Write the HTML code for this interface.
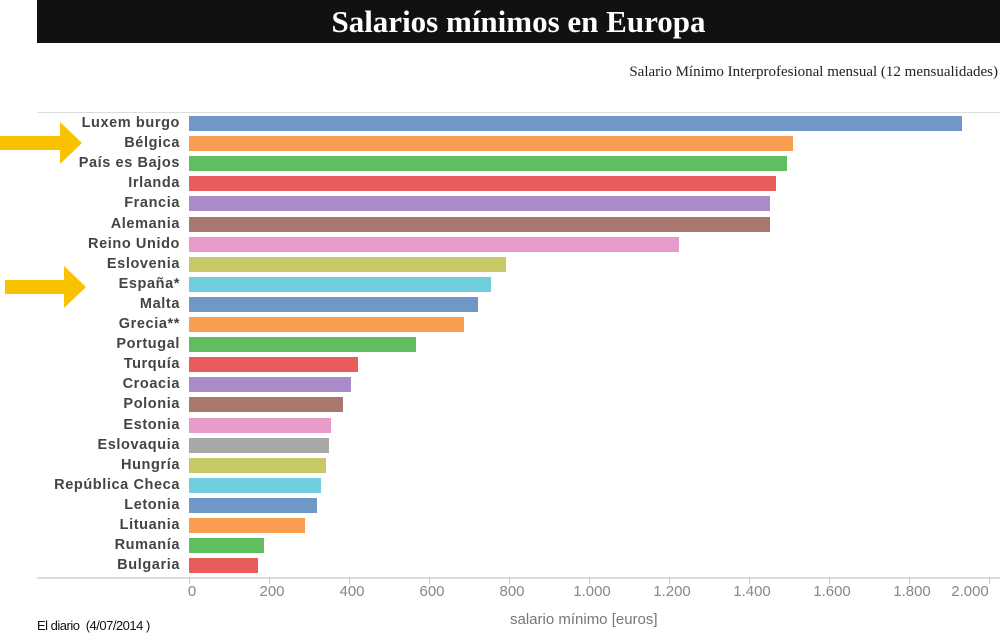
<!DOCTYPE html>
<html><head><meta charset="utf-8"><style>
body{margin:0;width:1000px;height:644px;background:#fff;position:relative;overflow:hidden;font-family:"Liberation Sans",sans-serif}
.t{position:absolute;left:37px;top:0;width:963px;height:43px;background:#111;color:#fff;font:bold 31px "Liberation Serif",serif;text-align:center;line-height:43px}
.s{position:absolute;right:2px;top:64px;font:15px "Liberation Serif",serif;color:#222}
.l{position:absolute;right:820px;font-weight:bold;font-size:14.5px;color:#444;letter-spacing:0.6px;white-space:nowrap}
.b{position:absolute;left:189px;height:15px}
.x{position:absolute;top:583px;font-size:15px;color:#888;transform:translateX(-50%)}
.k{position:absolute;top:577px;width:1px;height:7px;background:#ccc}
</style></head><body>
<div class="t">Salarios mínimos en Europa</div>
<div class="s">Salario Mínimo Interprofesional mensual (12 mensualidades)</div>
<div style="position:absolute;left:37px;top:112px;width:963px;height:1px;background:#ddd"></div>
<div style="position:absolute;left:37px;top:577px;width:963px;height:2px;background:#ddd"></div>
<svg style="position:absolute;left:0;top:0" width="100" height="320">
<polygon points="0,136 60,136 60,122 82,143 60,164 60,150 0,150" fill="#f9c200"/>
<polygon points="5,280 64,280 64,266 86,287 64,308 64,294 5,294" fill="#f9c200"/>
</svg>
<div id="c"></div>
<script>
var d=[["Luxem burgo",773,"#6f98c9"],["Bélgica",604,"#f89c4f"],["País es Bajos",598,"#5fbe5f"],["Irlanda",587,"#e95c5c"],["Francia",581,"#a98bc9"],["Alemania",581,"#a8776d"],["Reino Unido",490,"#e89bc9"],["Eslovenia",317,"#c8c866"],["España*",302,"#6fcfdf"],["Malta",289,"#6f98c9"],["Grecia**",275,"#f89c4f"],["Portugal",227,"#5fbe5f"],["Turquía",169,"#e95c5c"],["Croacia",162,"#a98bc9"],["Polonia",154,"#a8776d"],["Estonia",142,"#e89bc9"],["Eslovaquia",140,"#a8a8a8"],["Hungría",137,"#c8c866"],["República Checa",132,"#6fcfdf"],["Letonia",128,"#6f98c9"],["Lituania",116,"#f89c4f"],["Rumanía",75,"#5fbe5f"],["Bulgaria",69,"#e95c5c"]];
var h="";d.forEach(function(r,i){var y=116+i*20.1;h+='<div class="b" style="top:'+y+'px;width:'+r[1]+'px;background:'+r[2]+'"></div><div class="l" style="top:'+(y-1)+'px">'+r[0]+'</div>';});
var lab=["0","200","400","600","800","1.000","1.200","1.400","1.600","1.800","2.000"];
lab.forEach(function(s,i){var x=189+i*80;var lx=i==10?(x-19):(x+3);h+='<div class="k" style="left:'+x+'px"></div><div class="x" style="left:'+lx+'px">'+s+'</div>';});
document.getElementById("c").innerHTML=h;
</script>
<div style="position:absolute;left:510px;top:611px;font-size:15px;color:#777">salario mínimo [euros]</div>
<div style="position:absolute;left:37px;top:618px;font-size:13px;color:#111;letter-spacing:-0.5px">El diario &nbsp;(4/07/2014 )</div>
</body></html>
